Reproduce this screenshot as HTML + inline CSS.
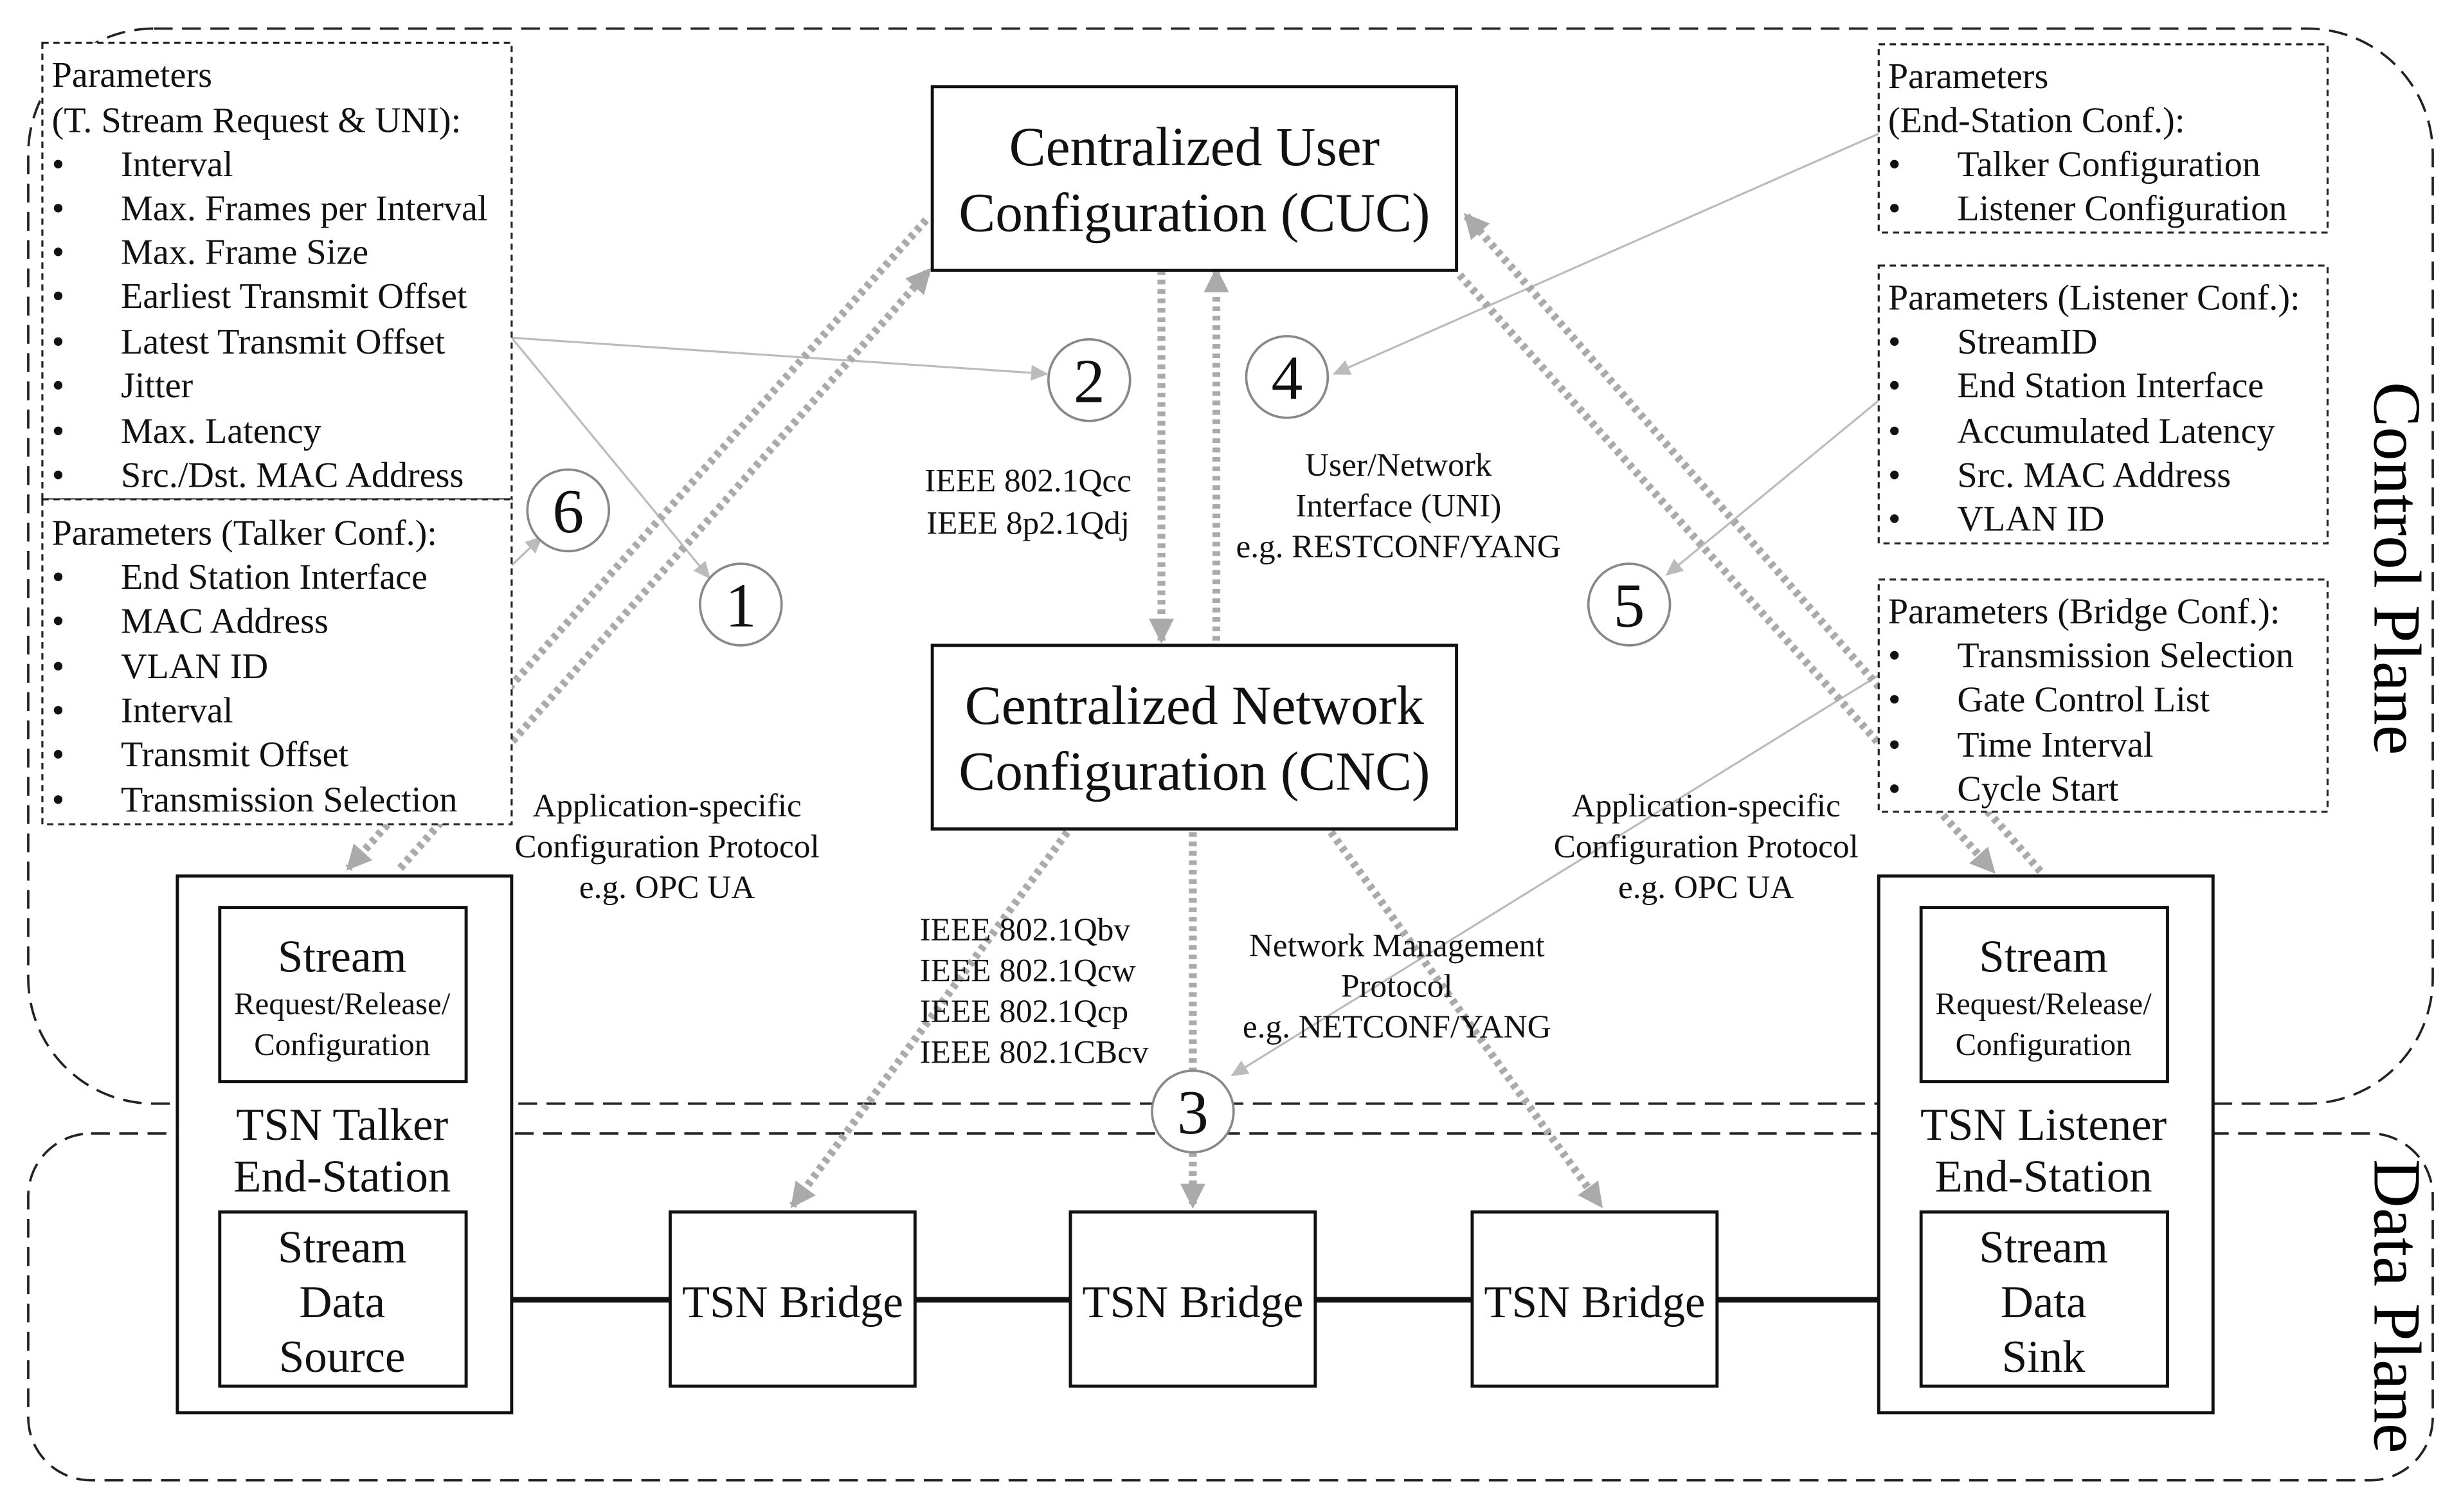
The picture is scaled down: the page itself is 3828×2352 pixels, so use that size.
<!DOCTYPE html>
<html><head><meta charset="utf-8"><style>html,body{margin:0;padding:0;background:#fff}svg{display:block}svg text{font-family:"Liberation Serif","DejaVu Serif",serif}</style></head><body>
<svg width="3828" height="2352" viewBox="0 0 1568 963" xmlns="http://www.w3.org/2000/svg" style="font-family:'Liberation Serif',serif">
<defs>
<marker id="ag" markerWidth="18" markerHeight="16" refX="14" refY="8" orient="auto" markerUnits="userSpaceOnUse"><path d="M0,0 L16,8 L0,16 z" fill="#aaa"/></marker>
<marker id="at" markerWidth="12" markerHeight="10" refX="10" refY="5" orient="auto" markerUnits="userSpaceOnUse"><path d="M0,0 L11,5 L0,10 z" fill="#bbb"/></marker>
</defs>
<rect x="18" y="18" width="1532" height="685" rx="80" fill="none" stroke="#222" stroke-width="1.5" stroke-dasharray="12,6"/>
<rect x="18" y="722" width="1532" height="221" rx="40" fill="none" stroke="#222" stroke-width="1.5" stroke-dasharray="12,6"/>
<text transform="translate(1513,362) rotate(90)" font-size="43" text-anchor="middle">Control Plane</text>
<text transform="translate(1513,832) rotate(90)" font-size="43" text-anchor="middle">Data Plane</text>

<g stroke="#bbb" stroke-width="1.3" fill="none" marker-end="url(#at)">
<line x1="326" y1="215" x2="667" y2="238"/>
<line x1="326" y1="215" x2="452" y2="368"/>
<line x1="1197" y1="85" x2="850" y2="238"/>
<line x1="1197" y1="255" x2="1062" y2="366"/>
<line x1="1197" y1="430" x2="785" y2="685"/>
<line x1="326" y1="360" x2="345" y2="342"/>
</g>
<g stroke="#aaa" stroke-width="5" stroke-dasharray="3,3" fill="none" marker-end="url(#ag)">
<line x1="740" y1="172" x2="740" y2="408"/>
<line x1="775" y1="408" x2="775" y2="172"/>
<line x1="590" y1="140" x2="222" y2="553"/>
<line x1="255" y1="553" x2="592" y2="172"/>
<line x1="1300" y1="555" x2="934" y2="137"/>
<line x1="930" y1="175" x2="1270" y2="555"/>
<line x1="680" y1="530" x2="505" y2="768"/>
<line x1="760" y1="530" x2="760" y2="768"/>
<line x1="848" y1="530" x2="1020" y2="768"/>
</g>

<g fill="#fff" stroke="#222" stroke-width="1.3" stroke-dasharray="4,3">
<rect x="27" y="27" width="299" height="291"/>
<rect x="27" y="318" width="299" height="207"/>
<rect x="1197" y="28" width="286" height="120"/>
<rect x="1197" y="169" width="286" height="177"/>
<rect x="1197" y="369" width="286" height="148"/>
</g>
<g font-size="23" fill="#111">
<text x="33" y="55">Parameters</text>
<text x="33" y="84">(T. Stream Request &amp; UNI):</text>
<text x="33" y="112">•</text><text x="77" y="112">Interval</text>
<text x="33" y="140">•</text><text x="77" y="140">Max. Frames per Interval</text>
<text x="33" y="168">•</text><text x="77" y="168">Max. Frame Size</text>
<text x="33" y="196">•</text><text x="77" y="196">Earliest Transmit Offset</text>
<text x="33" y="225">•</text><text x="77" y="225">Latest Transmit Offset</text>
<text x="33" y="253">•</text><text x="77" y="253">Jitter</text>
<text x="33" y="282">•</text><text x="77" y="282">Max. Latency</text>
<text x="33" y="310">•</text><text x="77" y="310">Src./Dst. MAC Address</text>
<text x="33" y="347">Parameters (Talker Conf.):</text>
<text x="33" y="375">•</text><text x="77" y="375">End Station Interface</text>
<text x="33" y="403">•</text><text x="77" y="403">MAC Address</text>
<text x="33" y="432">•</text><text x="77" y="432">VLAN ID</text>
<text x="33" y="460">•</text><text x="77" y="460">Interval</text>
<text x="33" y="488">•</text><text x="77" y="488">Transmit Offset</text>
<text x="33" y="517">•</text><text x="77" y="517">Transmission Selection</text>

<text x="1203" y="56">Parameters</text>
<text x="1203" y="84">(End-Station Conf.):</text>
<text x="1203" y="112">•</text><text x="1247" y="112">Talker Configuration</text>
<text x="1203" y="140">•</text><text x="1247" y="140">Listener Configuration</text>

<text x="1203" y="197">Parameters (Listener Conf.):</text>
<text x="1203" y="225">•</text><text x="1247" y="225">StreamID</text>
<text x="1203" y="253">•</text><text x="1247" y="253">End Station Interface</text>
<text x="1203" y="282">•</text><text x="1247" y="282">Accumulated Latency</text>
<text x="1203" y="310">•</text><text x="1247" y="310">Src. MAC Address</text>
<text x="1203" y="338">•</text><text x="1247" y="338">VLAN ID</text>

<text x="1203" y="397">Parameters (Bridge Conf.):</text>
<text x="1203" y="425">•</text><text x="1247" y="425">Transmission Selection</text>
<text x="1203" y="453">•</text><text x="1247" y="453">Gate Control List</text>
<text x="1203" y="482">•</text><text x="1247" y="482">Time Interval</text>
<text x="1203" y="510">•</text><text x="1247" y="510">Cycle Start</text>
</g>

<g fill="#fff" stroke="#111" stroke-width="2">
<rect x="594" y="55" width="334" height="117"/>
<rect x="594" y="411" width="334" height="117"/>
</g>
<g font-size="35" text-anchor="middle" fill="#111">
<text x="761" y="105">Centralized User</text>
<text x="761" y="147">Configuration (CUC)</text>
<text x="761" y="461">Centralized Network</text>
<text x="761" y="503">Configuration (CNC)</text>
</g>

<g fill="#fff" stroke="#888" stroke-width="1.5">
<circle cx="472" cy="385" r="26"/><circle cx="694" cy="242" r="26"/><circle cx="820" cy="240" r="26"/>
<circle cx="362" cy="325" r="26"/><circle cx="1038" cy="385" r="26"/><circle cx="760" cy="708" r="26"/>
</g>
<g font-size="40" text-anchor="middle" fill="#111">
<text x="472" y="399">1</text><text x="694" y="256">2</text><text x="820" y="254">4</text>
<text x="362" y="339">6</text><text x="1038" y="399">5</text><text x="760" y="722">3</text>
</g>

<g font-size="21" fill="#111" text-anchor="middle">
<text x="655" y="313">IEEE 802.1Qcc</text><text x="655" y="340">IEEE 8p2.1Qdj</text>
<text x="891" y="303">User/Network</text><text x="891" y="329">Interface (UNI)</text><text x="891" y="355">e.g. RESTCONF/YANG</text>
<text x="425" y="520">Application-specific</text><text x="425" y="546">Configuration Protocol</text><text x="425" y="572">e.g. OPC UA</text>
<text x="1087" y="520">Application-specific</text><text x="1087" y="546">Configuration Protocol</text><text x="1087" y="572">e.g. OPC UA</text>
<text x="890" y="609">Network Management</text><text x="890" y="635">Protocol</text><text x="890" y="661">e.g. NETCONF/YANG</text>
</g>
<g font-size="21" fill="#111">
<text x="586" y="599">IEEE 802.1Qbv</text><text x="586" y="625">IEEE 802.1Qcw</text><text x="586" y="651">IEEE 802.1Qcp</text><text x="586" y="677">IEEE 802.1CBcv</text>
</g>

<g stroke="#111" stroke-width="3.5">
<line x1="326" y1="828" x2="427" y2="828"/><line x1="583" y1="828" x2="682" y2="828"/>
<line x1="838" y1="828" x2="938" y2="828"/><line x1="1094" y1="828" x2="1197" y2="828"/>
</g>
<g fill="#fff" stroke="#111" stroke-width="2">
<rect x="113" y="558" width="213" height="342"/><rect x="140" y="578" width="157" height="111"/><rect x="140" y="772" width="157" height="111"/>
<rect x="1197" y="558" width="213" height="342"/><rect x="1224" y="578" width="157" height="111"/><rect x="1224" y="772" width="157" height="111"/>
<rect x="427" y="772" width="156" height="111"/><rect x="682" y="772" width="156" height="111"/><rect x="938" y="772" width="156" height="111"/>
</g>
<g text-anchor="middle" fill="#111">
<g font-size="29"><text x="218" y="619">Stream</text><text x="1302" y="619">Stream</text>
<text x="218" y="726">TSN Talker</text><text x="218" y="759">End-Station</text>
<text x="1302" y="726">TSN Listener</text><text x="1302" y="759">End-Station</text>
<text x="218" y="804">Stream</text><text x="218" y="839">Data</text><text x="218" y="874">Source</text>
<text x="1302" y="804">Stream</text><text x="1302" y="839">Data</text><text x="1302" y="874">Sink</text>
<text x="505" y="839">TSN Bridge</text><text x="760" y="839">TSN Bridge</text><text x="1016" y="839">TSN Bridge</text></g>
<g font-size="20"><text x="218" y="646">Request/Release/</text><text x="218" y="672">Configuration</text>
<text x="1302" y="646">Request/Release/</text><text x="1302" y="672">Configuration</text></g>
</g>
</svg>
</body></html>
